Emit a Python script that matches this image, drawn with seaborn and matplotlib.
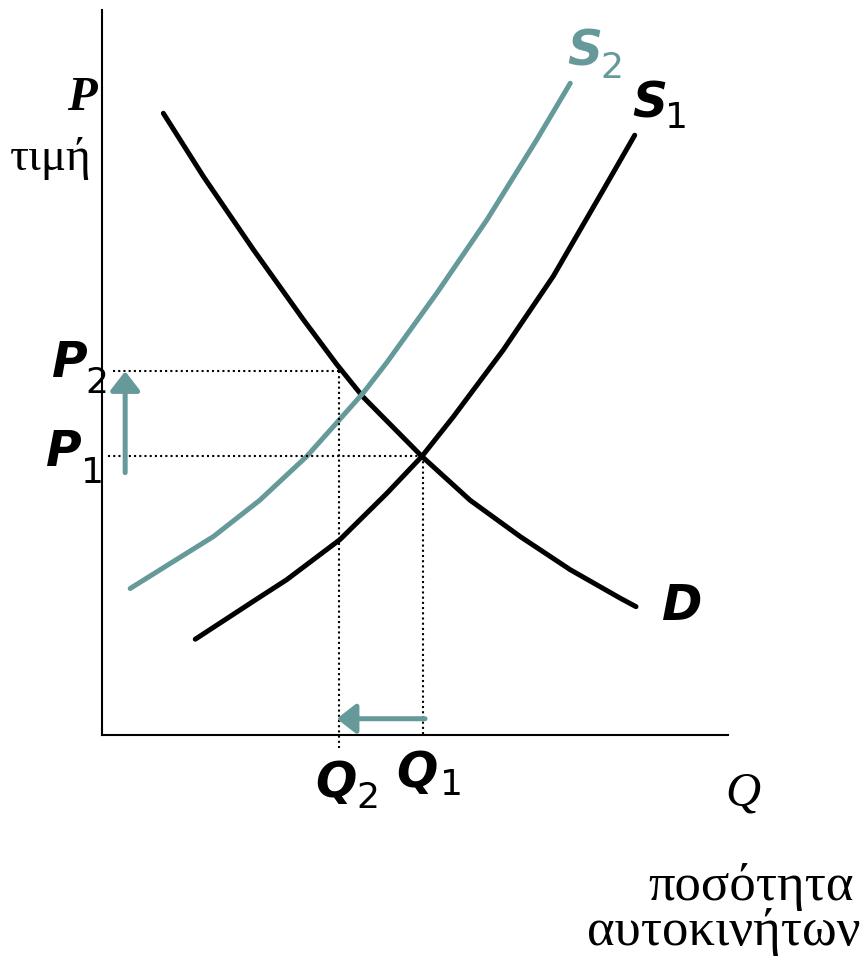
import numpy as np
import pandas as pd
import seaborn as sns
import matplotlib
matplotlib.use('Agg')
import matplotlib.pyplot as plt

# curve readings (quantity, price) taken off the slide
d_q = [0.98, 1.62, 2.42, 3.22, 3.75, 4.17, 5.11, 5.88, 6.68, 7.48, 8.27, 8.53]
d_p = [9.93, 8.92, 7.75, 6.63, 5.92, 5.40, 4.45, 3.75, 3.17, 2.64, 2.19, 2.05]

s1_q = [1.49, 2.47, 2.95, 3.80, 4.55, 5.11, 5.61, 6.41, 7.21, 8.01, 8.51]
s1_p = [1.53, 2.17, 2.48, 3.12, 3.86, 4.45, 5.08, 6.15, 7.33, 8.71, 9.58]

s2_q = [0.45, 1.09, 1.78, 2.52, 3.27, 3.69, 4.17, 4.55, 5.35, 6.15, 6.94, 7.48]
s2_p = [2.34, 2.74, 3.17, 3.75, 4.45, 4.92, 5.46, 5.95, 7.06, 8.23, 9.50, 10.41]

# equilibrium levels
q1, p1 = 5.13, 4.45
q2, p2 = 3.79, 5.81

teal = '#669999'

sns.set_theme(style='white')
plt.rcParams['text.color'] = 'black'

curves = pd.concat([
    pd.DataFrame({'Q': d_q, 'P': d_p, 'curve': 'D'}),
    pd.DataFrame({'Q': s1_q, 'P': s1_p, 'curve': 'S1'}),
    pd.DataFrame({'Q': s2_q, 'P': s2_p, 'curve': 'S2'}),
])

fig = plt.figure(figsize=(8.66, 9.58), dpi=100)
ax = fig.add_axes([102/866, (958-735)/958, 626/866, 725/958])

sns.lineplot(data=curves, x='Q', y='P', hue='curve', units='curve', estimator=None,
             palette={'D': 'black', 'S1': 'black', 'S2': teal},
             linewidth=3.6, legend=False, ax=ax)
for ln in ax.lines:
    ln.set_solid_joinstyle('round')

ax.set_xlim(0, 10)
ax.set_ylim(0, 11.58)
ax.set_xticks([])
ax.set_yticks([])
ax.set_xlabel('')
ax.set_ylabel('')
sns.despine(ax=ax)
for side in ['left', 'bottom']:
    ax.spines[side].set_color('black')
    ax.spines[side].set_linewidth(1.5)

# dotted guides
dots = dict(color='black', lw=1.5, linestyle=(0, (1, 1.5)), clip_on=False)
ax.plot([0.18, q2], [p2, p2], **dots)
ax.plot([q2, q2], [p2, -0.21], **dots)
ax.plot([0.10, q1], [p1, p1], **dots)
ax.plot([q1, q1], [p1, 0], **dots)

# shift arrows
arr = dict(arrowstyle='-|>,head_length=0.58,head_width=0.45', color=teal,
           lw=3.6, shrinkA=0, shrinkB=0, mutation_scale=20)
ax.annotate('', xy=(0.37, p2), xytext=(0.37, 4.19), arrowprops=arr, annotation_clip=False)
ax.annotate('', xy=(3.75, 0.26), xytext=(5.16, 0.26), arrowprops=arr, annotation_clip=False)

# labels
big = dict(family='DejaVu Sans', fontsize=35, fontweight='bold', style='italic', va='baseline', ha='left')
sub = dict(family='DejaVu Sans', fontsize=26, va='baseline', ha='left')
serif = dict(family='Liberation Serif', va='baseline')

ax.text(-0.08, 9.98, 'P', fontsize=35, fontweight='bold', style='italic', ha='right', **serif)
ax.text(-0.16, 9.03, 'τιμή', fontsize=34, ha='right', **serif)

ax.text(-0.80, 5.72, 'P', **big)
ax.text(-0.26, 5.46, '2', **sub)
ax.text(-0.90, 4.29, 'P', **big)
ax.text(-0.34, 4.03, '1', **sub)

ax.text(3.40, -0.99, 'Q', **big)
ax.text(4.07, -1.17, '2', **sub)
ax.text(4.70, -0.83, 'Q', **big)
ax.text(5.40, -0.96, '1', **sub)

ax.text(9.95, -1.13, 'Q', fontsize=35, style='italic', ha='left', **serif)
ax.text(8.72, -2.64, 'ποσότητα', fontsize=38, ha='left', **serif)
ax.text(7.75, -3.35, 'αυτοκινήτων', fontsize=38, ha='left', **serif)

ax.text(8.95, 1.84, 'D', **big)
ax.text(7.43, 10.70, 'S', color=teal, **big)
ax.text(7.96, 10.50, '2', color=teal, **sub)
ax.text(8.47, 9.87, 'S', **big)
ax.text(9.00, 9.70, '1', **sub)

fig.savefig('out.png', dpi=100, facecolor='white')
